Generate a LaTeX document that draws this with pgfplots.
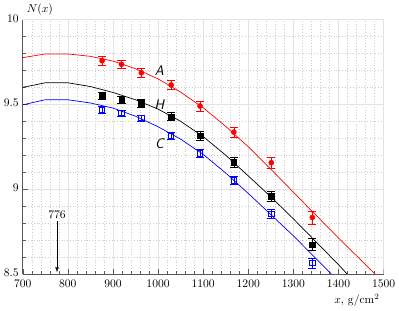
\documentclass[border=0pt]{standalone}
\usepackage{pgfplots}
\pgfplotsset{compat=1.18}
\definecolor{myred}{RGB}{255,0,0}
\definecolor{myblue}{RGB}{0,0,255}
\begin{document}
\begin{tikzpicture}
\begin{axis}[
  scale only axis,
  width=312pt, height=220pt,
  xmin=700, xmax=1500, ymin=8.5, ymax=10,
  xtick={700,800,...,1500},
  ytick={8.5,9,9.5,10},
  yticklabels={8.5,9,9.5,10},
  minor x tick num=4, minor y tick num=4,
  grid=both,
  major grid style={gray!22, line width=0.5pt},
  minor grid style={gray!40, dotted, line width=0.4pt},
  axis x line*=bottom, axis y line*=left,
  axis line style={gray!70!black, line width=0.6pt},
  tick style={gray!70!black},
  tick align=inside,
  /pgf/number format/1000 sep={},
  x tick label style={yshift=-1.5pt},
  y tick label style={yshift=1pt},
  clip=true,
  xlabel={$x$, g/cm$^2$},
  xlabel style={at={(axis description cs:1,0)}, anchor=north east, yshift=-14pt},
  ylabel={$N(x)$},
  ylabel style={at={(axis description cs:0,1)}, anchor=south west, rotate=-90, yshift=0pt},
]
\draw[gray!22, line width=0.6pt] (axis cs:700,10) -- (axis cs:1500,10) -- (axis cs:1500,8.5);
% model curves
\addplot[myred, line width=0.6pt] coordinates {
 (700,9.775) (750,9.797) (800,9.797) (850,9.783) (900,9.755) (950,9.710) (1000,9.650) (1050,9.572) (1100,9.480) (1150,9.370) (1200,9.250) (1250,9.118) (1300,8.982) (1400,8.712) (1481,8.5)};
\addplot[black, line width=0.6pt] coordinates {
 (700,9.600) (750,9.627) (800,9.627) (850,9.605) (900,9.570) (950,9.527) (1000,9.472) (1050,9.400) (1100,9.310) (1150,9.200) (1200,9.078) (1250,8.955) (1300,8.825) (1400,8.555) (1419,8.5)};
\addplot[myblue, line width=0.6pt] coordinates {
 (700,9.497) (750,9.527) (800,9.527) (850,9.508) (900,9.478) (950,9.430) (1000,9.368) (1050,9.295) (1100,9.205) (1150,9.095) (1200,8.975) (1250,8.850) (1300,8.725) (1384,8.5)};
% data
\addplot[myred, only marks, mark=*, mark size=2.2pt,
  error bars/.cd, y dir=both, y explicit, error mark options={rotate=90, mark size=3.5pt, myred}]
 coordinates {
 (876,9.757) +- (0,0.025)
 (919,9.736) +- (0,0.025)
 (963,9.686) +- (0,0.025)
 (1029,9.614) +- (0,0.027)
 (1093,9.490) +- (0,0.028)
 (1168,9.336) +- (0,0.030)
 (1251,9.156) +- (0,0.033)
 (1342,8.833) +- (0,0.037)};
\addplot[black, only marks, mark=square*, mark size=2.4pt,
  error bars/.cd, y dir=both, y explicit, error mark options={rotate=90, mark size=3.5pt, black}]
 coordinates {
 (876,9.552) +- (0,0.022)
 (919,9.527) +- (0,0.022)
 (963,9.507) +- (0,0.022)
 (1029,9.428) +- (0,0.024)
 (1093,9.314) +- (0,0.025)
 (1168,9.160) +- (0,0.028)
 (1251,8.959) +- (0,0.030)
 (1342,8.673) +- (0,0.035)};
\addplot[myblue, only marks, mark=square, mark size=2.3pt, mark options={line width=0.7pt},
  error bars/.cd, y dir=both, y explicit, error mark options={rotate=90, mark size=3.5pt, myblue}]
 coordinates {
 (876,9.466) +- (0,0.020)
 (919,9.448) +- (0,0.020)
 (963,9.418) +- (0,0.020)
 (1029,9.314) +- (0,0.020)
 (1093,9.211) +- (0,0.022)
 (1168,9.052) +- (0,0.024)
 (1251,8.855) +- (0,0.028)
 (1342,8.565) +- (0,0.030)};
\node[font=\sffamily\itshape\large] at (axis cs:1003,9.70) {A};
\node[font=\sffamily\itshape\large] at (axis cs:1003,9.495) {H};
\node[font=\sffamily\itshape\large] at (axis cs:1003,9.27) {C};
\node at (axis cs:776,8.85) {776};
\draw[-latex, black, line width=0.5pt] (axis cs:776,8.815) -- (axis cs:776,8.51);
\end{axis}
\end{tikzpicture}
\end{document}
